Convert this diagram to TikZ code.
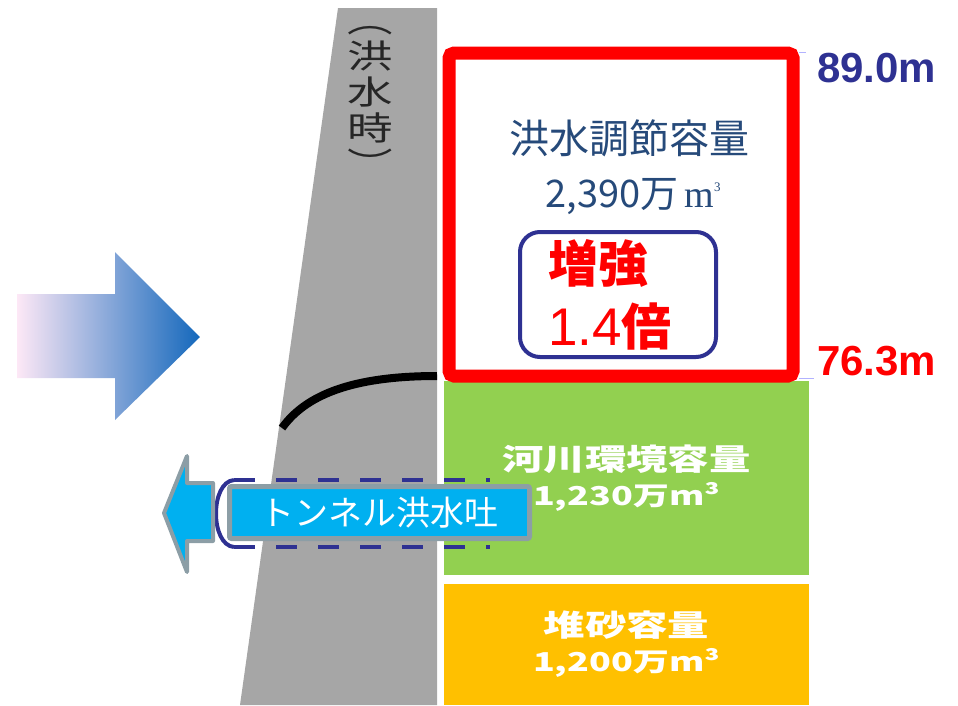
\documentclass[tikz,border=0pt]{standalone}
\usepackage{fontspec}
\usetikzlibrary{positioning}

\newfontfamily\jp{Noto Sans CJK JP}
\newfontfamily\jpwide[FakeStretch=1.38]{Noto Sans CJK JP}
\newfontfamily\arial{Liberation Sans}
\newfontfamily\tms{Liberation Serif}
\newcommand\fsz[1]{\fontsize{#1}{#1}\selectfont}

\definecolor{damgray}{RGB}{166,166,166}
\definecolor{floodred}{RGB}{255,0,0}
\definecolor{titleblue}{RGB}{38,74,122}
\definecolor{navy}{RGB}{46,49,146}
\definecolor{rivergreen}{RGB}{146,208,80}
\definecolor{sandorange}{RGB}{255,192,0}
\definecolor{tunnelcyan}{RGB}{0,176,240}
\definecolor{rimgray}{RGB}{140,158,166}
\definecolor{inpink}{RGB}{253,232,246}
\definecolor{inlilac}{RGB}{208,196,230}
\definecolor{inblue}{RGB}{20,104,188}

\begin{document}
\begin{tikzpicture}[
        x = 1pt, y = -1pt,
        zone/.style = {inner sep = 0, minimum width = 365pt, text = white,
                       align = center, font = \jpwide\bfseries\fontsize{30}{35}\selectfont},
        level/.style = {inner sep = 0, anchor = base west, font = \arial\bfseries\fsz{42}},
        boost/.style = {inner sep = 0, anchor = base west, text = floodred}
    ]

      \useasboundingbox (0,0) rectangle (958,705);

      % dam body
      \fill[damgray] (338,8) -- (437,8) -- (437,705) -- (240,705) -- cycle;
      \node[font = \jpwide\fontsize{33}{36}\selectfont, text = black!85,
            align = center, inner sep = 0] (flood_t) at (370,101)
            {︵\\洪\\水\\時\\︶};

      % inflow arrow
      \shade[left color = inpink, middle color = inlilac, right color = inblue]
            (17,294) -- (115,294) -- (115,252) -- (200,337)
            -- (115,420) -- (115,378) -- (17,378) -- cycle;

      % storage zones
      \node[zone, fill = rivergreen, minimum height = 194pt] (z_river) at (626.5,478)
            {河川環境容量\\{\fsz{26}1,230万m³}};
      \node[zone, fill = sandorange, minimum height = 121pt] (z_sand) at (626.5,644.5)
            {堆砂容量\\{\fsz{26}1,200万m³}};

      \node[draw = floodred, line width = 13pt, fill = white, rounded corners = 5pt,
            minimum width = 344pt, minimum height = 323pt] (z_flood) at (621,214.5) {};
      \node[text = titleblue, font = \jp\fsz{40}, inner sep = 0, anchor = base]
            (t_flood) at (629,153) {洪水調節容量};
      \node[text = titleblue, font = \jp\fsz{38}, inner sep = 0, anchor = base]
            (v_flood) at (633,207)
            {2,390万\,{\tms\fsz{38}m\raisebox{16pt}{\fsz{13}3}}};

      \node[draw = navy, line width = 4pt, rounded corners = 20pt,
            minimum width = 196pt, minimum height = 125pt] (b_boost) at (618,294.5) {};
      \node[boost, font = \jp\bfseries\fsz{50}] (b_top) at (548,282) {増強};
      \node[boost, font = \arial\fsz{53}] (b_low) at (548,345)
            {1.4{\jp\bfseries\fsz{50}倍}};

      % water levels
      \draw[blue!30, line width = 1pt] (799,52) -- (806,52);
      \draw[blue!30, line width = 1pt] (799,378) -- (814,378);
      \node[level, text = navy] (h_top) at (817,82) {89.0m};
      \node[level, text = floodred] (h_low) at (817,375) {76.3m};

      % intake curve
      \coordinate (c_in) at (437,376);
      \coordinate (c_out) at (282,428);
      \draw[line width = 8pt] (c_in) .. controls (350,376) and (305,396) .. (c_out);

      % tunnel spillway
      \coordinate (p_nw) at (234,480);
      \coordinate (p_sw) at (234,547);
      \draw[navy, line width = 4pt, dash pattern = on 21pt off 21pt]
            (p_nw) -- (490,480) (p_sw) -- (490,547);
      \draw[navy, line width = 4pt] (p_nw) .. controls (210,482) and (210,545) .. (p_sw);

      \fill[tunnelcyan, draw = rimgray, line width = 4pt, line join = round]
            (213,483) -- (187,483) -- (187,456) -- (164,513)
            -- (187,572) -- (187,541) -- (213,541) -- cycle;
      \node[fill = tunnelcyan, draw = rimgray, line width = 5pt, rounded corners = 2pt,
            minimum width = 300pt, minimum height = 52pt, text = white,
            font = \jp\fsz{34}] (spill) at (379.5,512.5) {トンネル洪水吐};

    \end{tikzpicture}
\end{document}
